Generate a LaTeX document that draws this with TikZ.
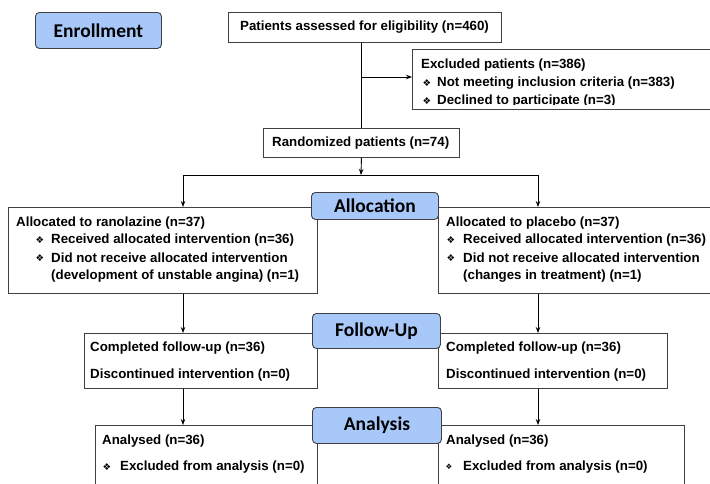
\documentclass[tikz,border=0pt]{standalone}
\usepackage{fontspec}
\setmainfont{Liberation Sans}
\newfontfamily\labfont{Carlito}
\newfontfamily\symfont{DejaVu Sans}
\usetikzlibrary{arrows.meta}
\definecolor{labblue}{HTML}{A8C8FA}
\definecolor{edgegray}{HTML}{404040}
\newcommand\diabul{{\symfont\fontsize{9.5}{9.5}\selectfont\char"2756}}
\newcommand\diabulsm{{\symfont\fontsize{7.5}{7.5}\selectfont\char"2756}}
\begin{document}
\begin{tikzpicture}[x=1pt,y=-1pt,
  box/.style={draw=edgegray, line width=0.9pt, fill=white, rectangle, inner sep=0pt, anchor=north west},
  lab/.style={draw=edgegray, line width=0.9pt, fill=labblue, rounded corners=4pt, inner sep=0pt, anchor=north west,
              font=\labfont\bfseries\fontsize{19.5}{19.5}\selectfont},
  txt/.style={anchor=west, inner sep=0pt, font=\bfseries\fontsize{13.3}{13.3}\selectfont},
  bul/.style={anchor=center, inner sep=0pt},
  conn/.style={line width=0.9pt, black},
  arr/.style={conn, -{Stealth[length=6pt,width=4.5pt]}}]

\useasboundingbox (0,0) rectangle (710,483);
\fill[white] (0,0) rectangle (710,483);
\clip (0,0) rectangle (710,483);

% boxes
\node[box, minimum width=273pt, minimum height=30pt] (elig) at (228,12) {};
\node[box, minimum width=308pt, minimum height=60pt] (excl) at (412,49) {};
\node[box, minimum width=196pt, minimum height=29pt] (rand) at (263,128) {};
\node[box, minimum width=309pt, minimum height=86pt] (ran) at (8,207) {};
\node[box, minimum width=282pt, minimum height=86pt] (pla) at (438,207) {};
\node[box, minimum width=233pt, minimum height=55pt] (fl) at (84,333) {};
\node[box, minimum width=229pt, minimum height=55pt] (fr) at (438,333) {};
\node[box, minimum width=222pt, minimum height=80pt] (al) at (95,425) {};
\node[box, minimum width=246pt, minimum height=80pt] (ar) at (438,425) {};

% texts
\node[txt] (t-elig) at (240,27) {Patients assessed for eligibility (n=460)};
\begin{scope}
  \clip (412,49) rectangle (720,104.5);
  \node[txt] (t-ex0) at (421,65) {Excluded patients (n=386)};
  \node[bul] (b-ex1) at (427,83) {\diabul};
  \node[txt] (t-ex1) at (437,83) {Not meeting inclusion criteria (n=383)};
  \node[bul] (b-ex2) at (427,101) {\diabul};
  \node[txt] (t-ex2) at (437,101) {Declined to participate (n=3)};
\end{scope}
\node[txt] (t-rand) at (272,143) {Randomized patients (n=74)};

\node[txt] (t-ran0) at (16,223) {Allocated to ranolazine (n=37)};
\node[bul] (b-ran1) at (40,240) {\diabul};
\node[txt] (t-ran1) at (51,240) {Received allocated intervention (n=36)};
\node[bul] (b-ran2) at (40,258) {\diabul};
\node[txt] (t-ran2) at (51,258) {Did not receive allocated intervention};
\node[txt] (t-ran3) at (51,276) {(development of unstable angina) (n=1)};

\node[txt] (t-pla0) at (446,223) {Allocated to placebo (n=37)};
\node[bul] (b-pla1) at (451,240) {\diabul};
\node[txt] (t-pla1) at (463,240) {Received allocated intervention (n=36)};
\node[bul] (b-pla2) at (451,258) {\diabul};
\node[txt] (t-pla2) at (463,258) {Did not receive allocated intervention};
\node[txt] (t-pla3) at (463,276) {(changes in treatment) (n=1)};

\node[txt] (t-fl1) at (90,348) {Completed follow-up (n=36)};
\node[txt] (t-fl2) at (90,375) {Discontinued intervention (n=0)};
\node[txt] (t-fr1) at (446,348) {Completed follow-up (n=36)};
\node[txt] (t-fr2) at (446,375) {Discontinued intervention (n=0)};

\node[txt] (t-al1) at (102,441) {Analysed (n=36)};
\node[bul] (b-al2) at (107,467) {\diabul};
\node[txt] (t-al2) at (120,467) {Excluded from analysis (n=0)};
\node[txt] (t-ar1) at (446,441) {Analysed (n=36)};
\node[bul] (b-ar2) at (449,467) {\diabulsm};
\node[txt] (t-ar2) at (463,467) {Excluded from analysis (n=0)};

% connectors
\coordinate (split) at (361,175);
\coordinate (jl) at (183,175);
\coordinate (jr) at (538,175);
\draw[conn] (rand.north |- elig.south) -- (rand.north);
\draw[arr] (rand.north |- 0,77) -- (excl.west |- 0,77);
\draw[arr] (rand.south) -- (split);
\draw[conn] (jl) -- (jr);
\draw[arr] (jl) -- (jl |- ran.north);
\draw[arr] (jr) -- (jr |- pla.north);
\draw[arr] (jl |- ran.south) -- (jl |- fl.north);
\draw[arr] (jr |- pla.south) -- (jr |- fr.north);
\draw[arr] (jl |- fl.south) -- (jl |- al.north);
\draw[arr] (jr |- fr.south) -- (jr |- ar.north);

% stage labels
\node[lab, minimum width=126pt, minimum height=36pt] (enr) at (35,12) {Enrollment};
\node[lab, minimum width=127pt, minimum height=27pt] (alloc) at (311,192) {Allocation};
\node[lab, minimum width=128pt, minimum height=35pt] (fup) at (312,313) {Follow-Up};
\node[lab, minimum width=129pt, minimum height=36pt] (ana) at (312,407) {Analysis};
\end{tikzpicture}
\end{document}
